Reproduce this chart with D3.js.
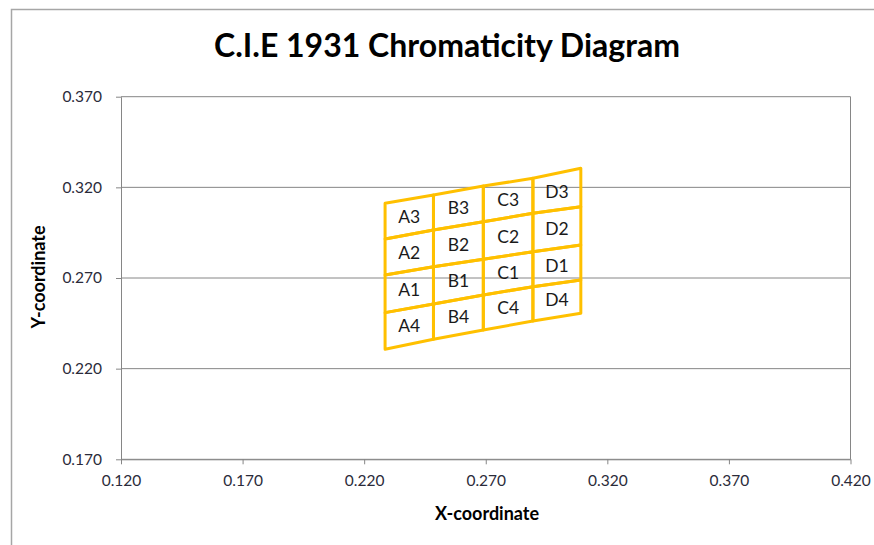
<!DOCTYPE html>
<html>
<head>
<meta charset="utf-8">
<script src="https://cdn.jsdelivr.net/npm/d3@7"></script>
<style>
  body { margin: 0; background: #fff; }
  svg text { font-family: Lato, "Open Sans", sans-serif; }
  .axis text { font-size: 15.5px; fill: #2b2b3a; }
  .axis path, .axis line { stroke: #868686; }
</style>
</head>
<body>
<div id="chart"></div>
<script>
// tick values of both axes
var xTicks = [0.120, 0.170, 0.220, 0.270, 0.320, 0.370, 0.420];
var yTicks = [0.170, 0.220, 0.270, 0.320, 0.370];

// x of the five vertical bin edges
var xEdges = [0.2286, 0.2485, 0.2690, 0.2894, 0.3091];

// y of the five sloped bin edges (bottom to top), read at each x edge
var yEdges = [
    [0.2307, 0.2362, 0.2413, 0.2463, 0.2505],
    [0.2509, 0.2557, 0.2606, 0.2652, 0.2689],
    [0.2716, 0.2762, 0.2803, 0.2845, 0.2882],
    [0.2915, 0.2965, 0.3010, 0.3057, 0.3093],
    [0.3112, 0.3158, 0.3207, 0.3250, 0.3305]
];

// bin names: columns left to right, rows bottom to top
var colNames = ["A", "B", "C", "D"];
var rowNames = ["4", "1", "2", "3"];

var width = 874, height = 545;
var margin = {top: 96.7, right: 23.5, bottom: 85.7, left: 121};

var svg = d3.select("#chart").append("svg")
    .attr("width", width)
    .attr("height", height);

// outer chart frame
svg.append("rect")
    .attr("x", 11.5).attr("y", 9.5)
    .attr("width", width + 20).attr("height", height + 20)
    .attr("fill", "none")
    .attr("stroke", "#a6a6a6")
    .attr("stroke-width", 1.5);

var x = d3.scaleLinear().domain([0.12, 0.42]).range([margin.left, width - margin.right]);
var y = d3.scaleLinear().domain([0.17, 0.37]).range([height - margin.bottom, margin.top]);

// horizontal gridlines
svg.append("g").selectAll("line")
    .data(yTicks)
    .enter().append("line")
    .attr("x1", x(0.12)).attr("x2", x(0.42))
    .attr("y1", d => y(d)).attr("y2", d => y(d))
    .attr("stroke", "#868686");

// plot area border on right
svg.append("line")
    .attr("x1", x(0.42)).attr("x2", x(0.42))
    .attr("y1", y(0.37)).attr("y2", y(0.17))
    .attr("stroke", "#868686");

svg.append("g")
    .attr("class", "axis")
    .attr("transform", "translate(0," + y(0.17) + ")")
    .call(d3.axisBottom(x).tickValues(xTicks).tickFormat(d3.format(".3f")).tickSizeInner(5).tickSizeOuter(0).tickPadding(11));

svg.append("g")
    .attr("class", "axis")
    .attr("transform", "translate(" + x(0.12) + ",0)")
    .call(d3.axisLeft(y).tickValues(yTicks).tickFormat(d3.format(".3f")).tickSizeInner(5).tickSizeOuter(0).tickPadding(14));

svg.selectAll(".axis .domain").attr("stroke", "#868686");

// build the bin cells
var cells = [];
rowNames.forEach(function(r, i){
    colNames.forEach(function(c, j){
        var pts = [
            [xEdges[j], yEdges[i][j]],
            [xEdges[j + 1], yEdges[i][j + 1]],
            [xEdges[j + 1], yEdges[i + 1][j + 1]],
            [xEdges[j], yEdges[i + 1][j]]
        ];
        cells.push({name: c + r, pts: pts});
    });
});

var line = d3.line().x(d => x(d[0])).y(d => y(d[1])).curve(d3.curveLinearClosed);

svg.append("g").selectAll("path")
    .data(cells)
    .enter().append("path")
    .attr("d", d => line(d.pts))
    .attr("fill", "none")
    .attr("stroke", "#ffc000")
    .attr("stroke-width", 3)
    .attr("stroke-linejoin", "round");

svg.append("g").selectAll("text")
    .data(cells)
    .enter().append("text")
    .attr("x", d => x(d3.mean(d.pts, p => p[0])))
    .attr("y", d => y(d3.mean(d.pts, p => p[1])))
    .attr("text-anchor", "middle")
    .attr("dy", "0.35em")
    .style("font-size", "17.5px")
    .style("fill", "#1a1a1a")
    .text(d => d.name);

// titles
svg.append("text")
    .attr("x", 447).attr("y", 57)
    .attr("text-anchor", "middle")
    .style("font-size", "32px")
    .style("font-weight", "bold")
    .style("fill", "#000")
    .text("C.I.E 1931 Chromaticity Diagram");

svg.append("text")
    .attr("x", 487).attr("y", 520)
    .attr("text-anchor", "middle")
    .style("font-size", "18px")
    .style("font-weight", "bold")
    .style("fill", "#000")
    .text("X-coordinate");

svg.append("text")
    .attr("transform", "translate(45,277) rotate(-90)")
    .attr("text-anchor", "middle")
    .style("font-size", "18px")
    .style("font-weight", "bold")
    .style("fill", "#000")
    .text("Y-coordinate");
</script>
</body>
</html>
